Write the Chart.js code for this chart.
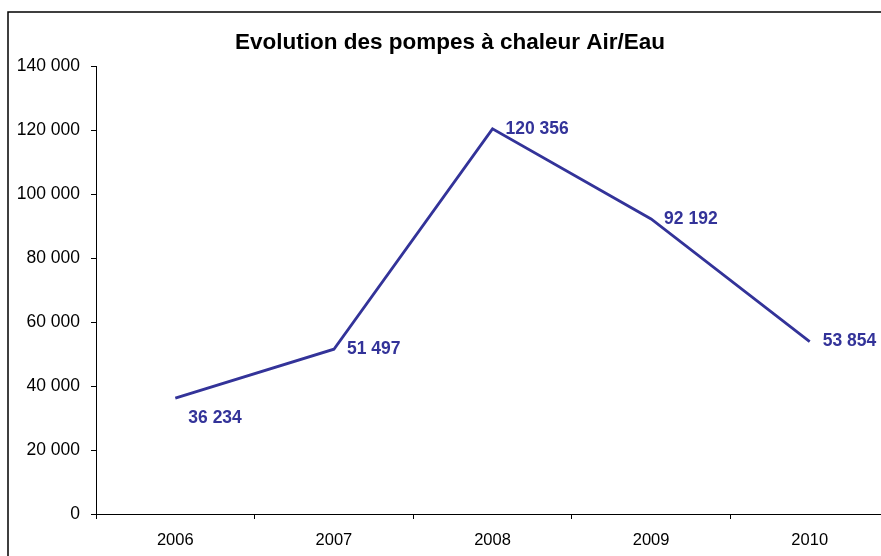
<!DOCTYPE html>
<html>
<head>
<meta charset="utf-8">
<script src="https://cdn.jsdelivr.net/npm/chart.js@4.4.1/dist/chart.umd.min.js"></script>
<style>
  html, body { margin: 0; padding: 0; background: #fff; overflow: hidden; }
  #wrap { position: absolute; left: 0; top: 0; width: 900px; height: 570px; }
</style>
</head>
<body>
<div id="wrap"><canvas id="chart"></canvas></div>
<script>
// Données
const years = ['2006', '2007', '2008', '2009', '2010'];
const pacAirEau = [36234, 51497, 120356, 92192, 53854];
const yTicks = [0, 20000, 40000, 60000, 80000, 100000, 120000, 140000];
const chartTitle = 'Evolution des pompes à chaleur Air/Eau';

// position des étiquettes (style)
const labelPlacement = ['below', 'right', 'right', 'right', 'right'];

const FONT = "'Liberation Sans', Arial, sans-serif";
const NAVY = '#333399';

function fmt(v) {
  return String(v).replace(/\B(?=(\d{3})+(?!\d))/g, ' ');
}

// cadre noir autour du graphique
const framePlugin = {
  id: 'frame',
  afterDraw(chart) {
    const ctx = chart.ctx;
    ctx.save();
    ctx.strokeStyle = '#000';
    ctx.lineWidth = 1.5;
    ctx.strokeRect(8, 12, 882, 560);
    ctx.restore();
  }
};

// étiquettes de valeurs
const valueLabels = {
  id: 'valueLabels',
  afterDatasetsDraw(chart) {
    const ctx = chart.ctx;
    const meta = chart.getDatasetMeta(0);
    ctx.save();
    ctx.font = 'bold 17.5px ' + FONT;
    ctx.fillStyle = NAVY;
    ctx.textAlign = 'left';
    ctx.textBaseline = 'middle';
    meta.data.forEach((pt, i) => {
      const dy = labelPlacement[i] === 'below' ? 20 : 0;
      ctx.fillText(fmt(pacAirEau[i]), pt.x + 13, pt.y + dy);
    });
    ctx.restore();
  }
};

const ctx = document.getElementById('chart').getContext('2d');
new Chart(ctx, {
  type: 'line',
  data: {
    labels: years,
    datasets: [{
      data: pacAirEau,
      borderColor: NAVY,
      borderWidth: 2.8,
      pointRadius: 0,
      tension: 0,
      fill: false
    }]
  },
  options: {
    responsive: true,
    maintainAspectRatio: false,
    animation: false,
    layout: { padding: { left: 11, right: 11, top: 0, bottom: 0 } },
    plugins: {
      legend: { display: false },
      tooltip: { enabled: false },
      title: {
        display: true,
        text: chartTitle,
        color: '#000',
        font: { family: FONT, size: 22.5, weight: 'bold', lineHeight: 1.2 },
        padding: { top: 29, bottom: 10 }
      }
    },
    scales: {
      x: {
        offset: true,
        grid: {
          offset: true,
          drawOnChartArea: false,
          drawTicks: true,
          tickLength: 5,
          color: '#000'
        },
        border: { display: true, color: '#000', width: 1 },
        ticks: {
          color: '#000',
          font: { family: FONT, size: 16.5 },
          padding: 12,
          maxRotation: 0
        },
        afterFit(scale) { scale.height = 56; }
      },
      y: {
        min: 0,
        max: 140000,
        afterBuildTicks(scale) {
          scale.ticks = yTicks.map(v => ({ value: v }));
        },
        grid: {
          drawOnChartArea: false,
          drawTicks: true,
          tickLength: 5,
          color: '#000'
        },
        border: { display: true, color: '#000', width: 1 },
        ticks: {
          color: '#000',
          font: { family: FONT, size: 17.5 },
          padding: 11,
          callback: (v) => fmt(v)
        },
        afterFit(scale) { scale.width = 85; }
      }
    }
  },
  plugins: [framePlugin, valueLabels]
});
</script>
</body>
</html>
